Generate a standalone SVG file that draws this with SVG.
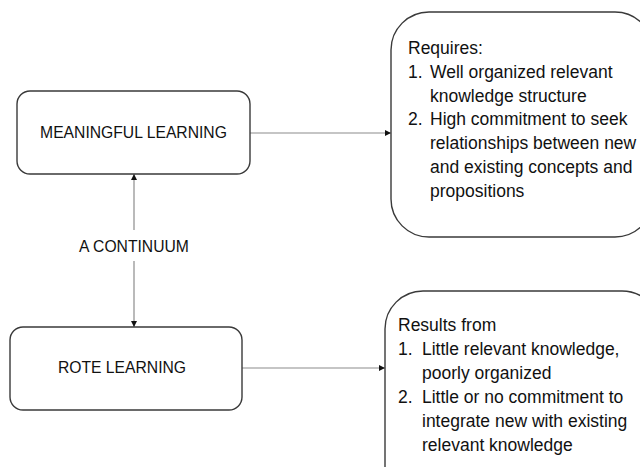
<svg xmlns="http://www.w3.org/2000/svg" width="640" height="467" viewBox="0 0 640 467">
<style>
.box{fill:#fff;stroke:#3a3a3a;stroke-width:1.4}
.t{font-family:"Liberation Sans",Arial,sans-serif;font-size:15.7px;fill:#111}
.b{font-size:17.5px}
.c{text-anchor:middle}
.ln{stroke:#8c8c8c;stroke-width:1.2;fill:none}
</style>
<defs>
<marker id="ah" viewBox="0 0 10 10" refX="10" refY="5" markerWidth="6" markerHeight="6" orient="auto-start-reverse" markerUnits="userSpaceOnUse">
<path d="M0,0 L10,5 L0,10 z" fill="#111"/>
</marker>
</defs>
<rect width="640" height="467" fill="#fff"/>
<g id="connectors">
<line class="ln" x1="250" y1="133" x2="391" y2="133" marker-end="url(#ah)"/>
<line class="ln" x1="242" y1="368" x2="385" y2="368" marker-end="url(#ah)"/>
<line class="ln" x1="134" y1="230" x2="134" y2="174" marker-end="url(#ah)"/>
<line class="ln" x1="134" y1="261" x2="134" y2="327" marker-end="url(#ah)"/>
<text class="t c" x="134" y="252">A CONTINUUM</text>
</g>
<g id="meaningful">
<rect class="box" x="17" y="91" width="233" height="83" rx="13"/>
<text class="t c" x="133.5" y="138">MEANINGFUL LEARNING</text>
</g>
<g id="rote">
<rect class="box" x="10" y="327" width="232" height="83" rx="13"/>
<text class="t c" x="122" y="373">ROTE LEARNING</text>
</g>
<g id="requires">
<rect class="box" x="391" y="12" width="262" height="225" rx="38"/>
<text class="t b" x="408" y="54">Requires:</text>
<text class="t b" x="408" y="78">1.</text>
<text class="t b" x="430" y="78">Well organized relevant</text>
<text class="t b" x="430" y="102">knowledge structure</text>
<text class="t b" x="408" y="125">2.</text>
<text class="t b" x="430" y="125">High commitment to seek</text>
<text class="t b" x="430" y="149">relationships between new</text>
<text class="t b" x="430" y="173">and existing concepts and</text>
<text class="t b" x="430" y="197">propositions</text>
</g>
<g id="results">
<rect class="box" x="385" y="291" width="275" height="230" rx="38"/>
<text class="t b" x="398" y="331">Results from</text>
<text class="t b" x="398" y="355">1.</text>
<text class="t b" x="422" y="355">Little relevant knowledge,</text>
<text class="t b" x="422" y="379">poorly organized</text>
<text class="t b" x="398" y="403">2.</text>
<text class="t b" x="422" y="403">Little or no commitment to</text>
<text class="t b" x="422" y="427">integrate new with existing</text>
<text class="t b" x="422" y="451">relevant knowledge</text>
</g>
</svg>
